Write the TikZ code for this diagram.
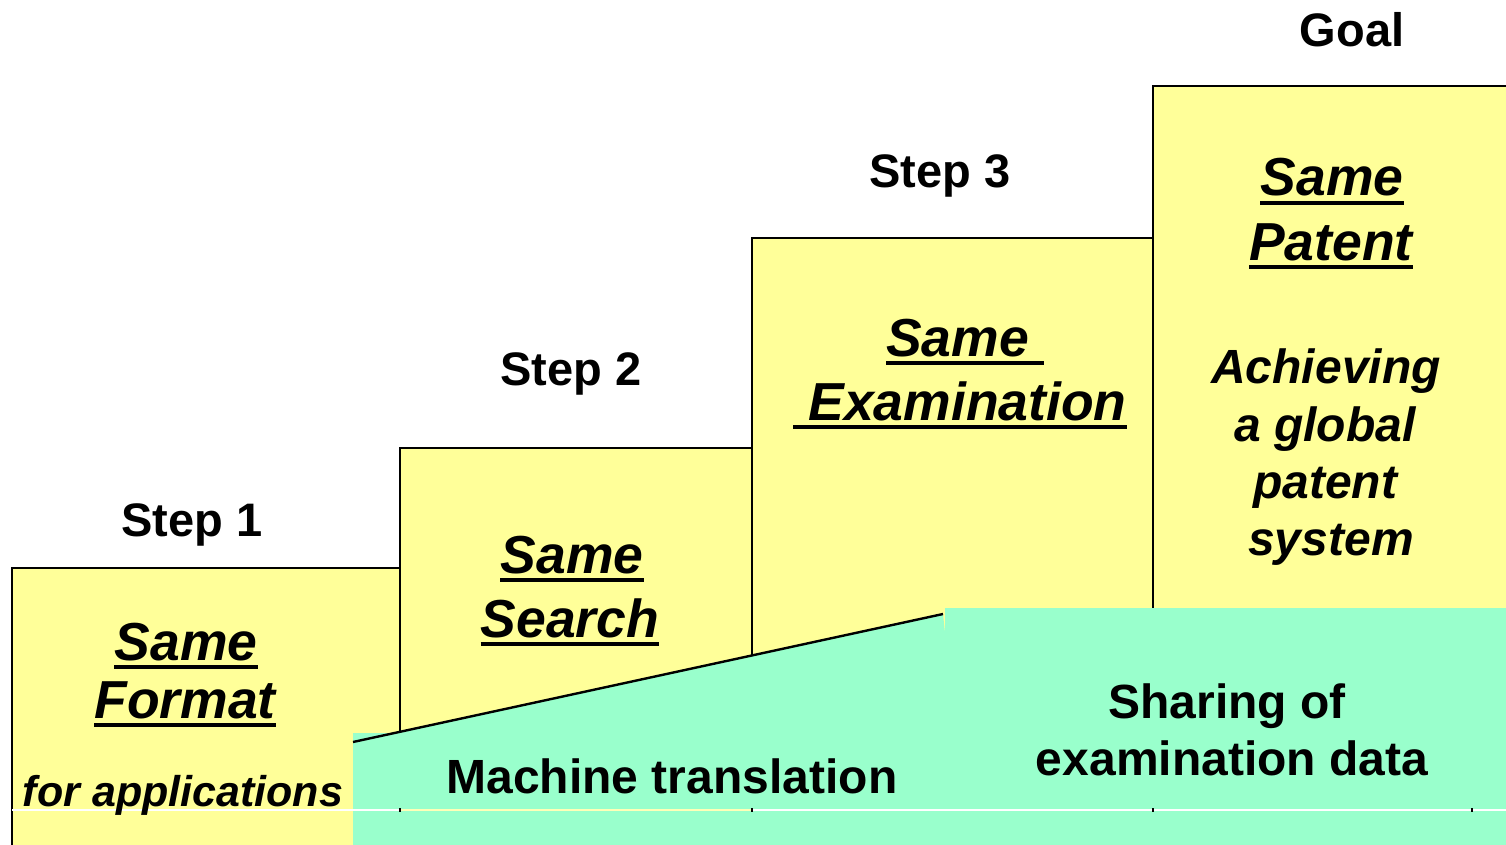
\documentclass[tikz,border=0pt]{standalone}
\usepackage{fontspec}
\setmainfont{Liberation Sans}
\definecolor{padyellow}{HTML}{FFFF99}
\definecolor{padgreen}{HTML}{99FFCC}
\tikzset{
  stepbox/.style={fill=padyellow, draw=black, line width=1.4pt},
  steplabel/.style={font=\fontsize{47}{56}\selectfont\bfseries, inner sep=0pt, anchor=base},
  titletext/.style={font=\fontsize{53.5}{60}\selectfont\bfseries\itshape, inner sep=0pt, anchor=base},
  goaltext/.style={font=\fontsize{48}{56}\selectfont\bfseries\itshape, inner sep=0pt, anchor=base},
  subtext/.style={font=\fontsize{43}{50}\selectfont\bfseries\itshape, inner sep=0pt, anchor=base},
  greentext/.style={font=\fontsize{48}{56}\selectfont\bfseries, inner sep=0pt, anchor=base},
  ulline/.style={line width=3.8pt, line cap=butt},
}
\newcommand{\ulnode}[1]{\draw[ulline] ([yshift=-7pt]#1.base west) -- ([yshift=-7pt]#1.base east);}
\begin{document}
\begin{tikzpicture}[x=1pt,y=-1pt]
\useasboundingbox (0,0) rectangle (1506,845);
\clip (0,0) rectangle (1506,845);
% yellow steps
\path[stepbox] (12,568) rectangle (400,860);
\path[stepbox] (400,448) rectangle (752,860);
\path[stepbox] (752,238) rectangle (1153,860);
\path[stepbox] (1153,86) rectangle (1520,860);
% green areas
\fill[padgreen] (353,860) -- (353,733) -- (394,733) -- (943,614) -- (945,633) -- (945,860) -- cycle;
\fill[padgreen] (945,608) rectangle (1520,860);
\coordinate (slopeA) at (353,742);
\coordinate (slopeB) at (943,614);
\draw[line width=2.4pt] (slopeA) -- (slopeB);
% thin line near bottom
\draw[white, line width=1.5pt] (12,810) -- (400,810);
\draw[padyellow!70!white, line width=1.5pt] (400,810) -- (752,810);
\draw[white, line width=1.5pt] (752,810) -- (1506,810);
\foreach \tx in {400,752,1153,1472} \draw[black, line width=1.2pt] (\tx,808) -- (\tx,812);
% step labels
\node[steplabel] (st1) at (192,536) {Step 1};
\node[steplabel] (st2) at (571,385) {Step 2};
\node[steplabel] (st3) at (940,187) {Step 3};
\node[steplabel] (goal) at (1352,47) {Goal};
% box 1
\node[titletext] (f1) at (186,660) {Same};
\node[titletext] (f2) at (185,718) {Format};
\ulnode{f1} \ulnode{f2}
\node[subtext] (f3) at (183,806) {for applications};
% box 2
\node[titletext] (s1) at (572,573) {Same};
\node[titletext] (s2) at (570,637) {Search};
\ulnode{s1} \ulnode{s2}
% box 3
\node[titletext] (e1) at (965,356) {Same\ \mbox{}};
\node[titletext] (e2) at (960,420) {\mbox{}\ Examination};
\ulnode{e1} \ulnode{e2}
% box 4
\node[titletext] (p1) at (1332,196) {Same};
\node[titletext] (p2) at (1331,260) {Patent};
\ulnode{p1} \ulnode{p2}
\node[goaltext] (g1) at (1326,383) {Achieving};
\node[goaltext] (g2) at (1325,441) {a global};
\node[goaltext] (g3) at (1325,498) {patent};
\node[goaltext] (g4) at (1331,555) {system};
% green texts
\node[greentext] (mt) at (672,793) {Machine translation};
\node[greentext] (sh1) at (1227,718) {Sharing of};
\node[greentext] (sh2) at (1232,775) {examination data};
\end{tikzpicture}
\end{document}
